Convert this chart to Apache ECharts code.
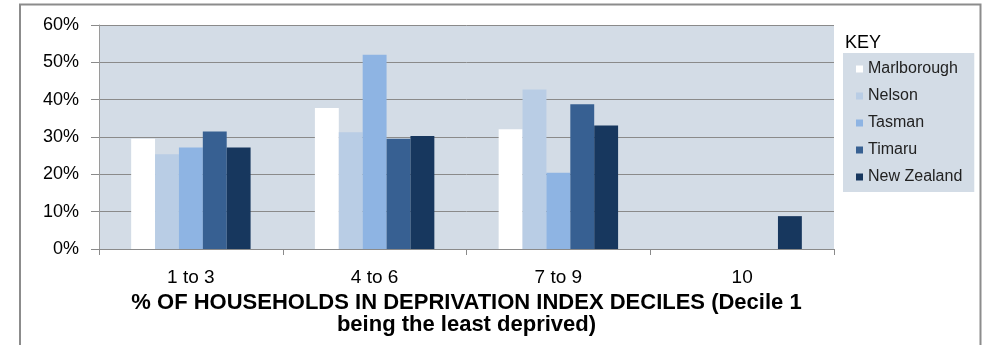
<!DOCTYPE html>
<html>
<head>
<meta charset="utf-8">
<script src="https://cdn.jsdelivr.net/npm/echarts@6/dist/echarts.min.js"></script>
<style>
html,body{margin:0;padding:0;background:#fff;}
#chart{width:984px;height:345px;}
</style>
</head>
<body>
<div id="chart"></div>
<script>
var categories = ['1 to 3', '4 to 6', '7 to 9', '10'];
var marlborough = [29.5, 37.8, 32.1, 0];
var nelson = [25.4, 31.3, 42.7, 0];
var tasman = [27.2, 52.0, 20.4, 0];
var timaru = [31.5, 29.5, 38.8, 0];
var newZealand = [27.2, 30.3, 33.1, 8.8];
var seriesNames = ['Marlborough', 'Nelson', 'Tasman', 'Timaru', 'New Zealand'];
var seriesData = [marlborough, nelson, tasman, timaru, newZealand];
var colors = ['#FFFFFF', '#B9CDE5', '#8EB4E3', '#376092', '#17375E'];
var xTitle = '% OF HOUSEHOLDS IN DEPRIVATION INDEX DECILES (Decile 1\nbeing the least deprived)';

var chart = echarts.init(document.getElementById('chart'), null, {renderer: 'canvas'});
var FONT = '"Liberation Sans", Arial, sans-serif';

var series = seriesNames.map(function (n, i) {
  return {
    name: n,
    type: 'bar',
    data: seriesData[i],
    barGap: '0%',
    barCategoryGap: '35%',
    itemStyle: {color: colors[i]},
    emphasis: {disabled: true}
  };
});

chart.setOption({
  animation: false,
  color: colors,
  textStyle: {fontFamily: FONT},
  graphic: [
    {
      type: 'rect',
      silent: true,
      z: 100,
      shape: {x: 20, y: 4.5, width: 960.5, height: 400},
      style: {fill: 'none', stroke: '#8c8c8c', lineWidth: 2}
    },
    {
      type: 'text',
      left: 845,
      top: 34,
      style: {text: 'KEY', font: '18px ' + FONT, fill: '#000'}
    }
  ],
  grid: {
    left: 99, right: 150, top: 25, bottom: 96,
    show: true,
    backgroundColor: '#D3DCE6',
    borderWidth: 0
  },
  legend: {
    orient: 'vertical',
    left: 843,
    top: 53,
    padding: [8, 12, 7, 13],
    backgroundColor: '#D3DCE6',
    itemWidth: 7,
    itemHeight: 7,
    itemGap: 11,
    icon: 'rect',
    selectedMode: false,
    data: seriesNames,
    textStyle: {fontFamily: FONT, fontSize: 16, color: '#222', lineHeight: 15}
  },
  xAxis: {
    type: 'category',
    data: categories,
    axisLine: {show: true, lineStyle: {color: '#8a8a8a', width: 1}},
    axisTick: {show: true, length: 6, lineStyle: {color: '#8a8a8a'}},
    axisLabel: {fontSize: 19, color: '#000', margin: 19, fontFamily: FONT},
    splitLine: {show: false},
    name: xTitle,
    nameLocation: 'middle',
    nameGap: 42,
    nameTextStyle: {fontSize: 22, fontWeight: 'bold', color: '#000', lineHeight: 22, fontFamily: FONT}
  },
  yAxis: {
    type: 'value',
    min: 0,
    max: 60,
    interval: 10,
    axisLine: {show: true, lineStyle: {color: '#9a9a9a', width: 1}},
    axisTick: {show: true, length: 8, lineStyle: {color: '#8a8a8a'}},
    axisLabel: {fontSize: 18, color: '#000', margin: 20, formatter: '{value}%', fontFamily: FONT},
    splitLine: {show: true, lineStyle: {color: '#8a8a8a', width: 1}}
  },
  series: series
});
</script>
</body>
</html>
